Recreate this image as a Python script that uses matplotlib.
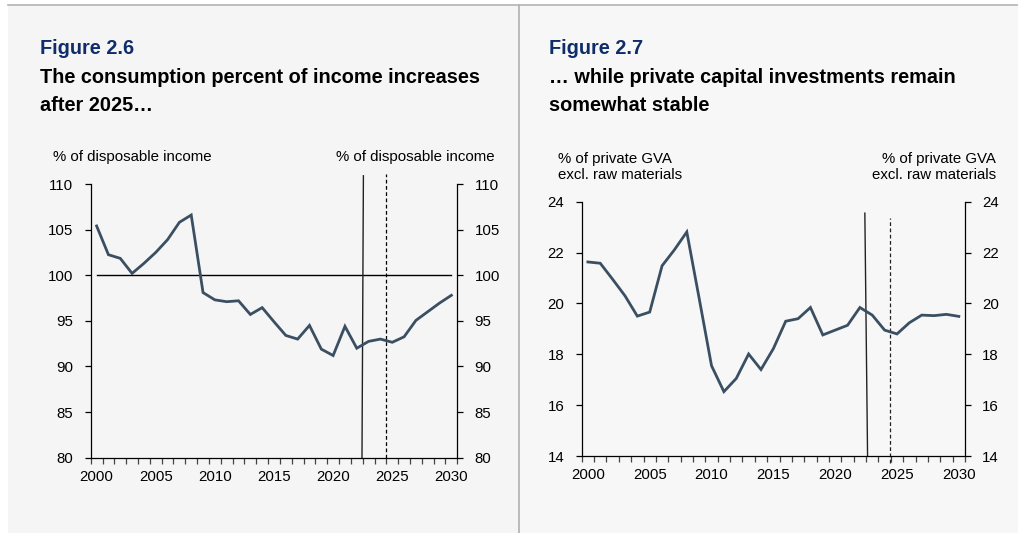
import numpy as np
import matplotlib.pyplot as plt
from matplotlib.patches import Rectangle
from matplotlib.lines import Line2D

plt.rcParams['font.family'] = ['Liberation Sans', 'DejaVu Sans']

# Datos
years = list(range(2000, 2031))
consumption = [105.4, 102.25, 101.85, 100.2, 101.3, 102.5, 103.9, 105.8, 106.6,
               98.1, 97.3, 97.1, 97.2, 95.7, 96.45, 94.9, 93.4, 93.0, 94.5,
               91.9, 91.2, 94.4, 92.0, 92.75, 93.0, 92.65, 93.25, 95.05, 96.0,
               96.95, 97.8]
investment = [21.63, 21.58, 20.95, 20.3, 19.5, 19.66, 21.48, 22.11, 22.81,
              20.2, 17.55, 16.53, 17.05, 18.01, 17.4, 18.22, 19.3, 19.4, 19.84,
              18.76, 18.95, 19.14, 19.84, 19.54, 18.95, 18.8, 19.24, 19.54,
              19.52, 19.57, 19.49]
label_years = [2000, 2005, 2010, 2015, 2020, 2025, 2030]

W, H = 1018, 533
LINE_COLOR = '#3b4f63'
NAVY = '#0f2d6b'
FS = 10.8
TFS = 14.3


def px(x, y):
    return x / W, 1 - y / H


fig = plt.figure(figsize=(W / 100, H / 100), dpi=100, facecolor='white')

# Fondos de los paneles y separadores
fig.patches.append(Rectangle(px(8, H), (519 - 8) / W, (H - 5) / H,
                             transform=fig.transFigure, facecolor='#f5f5f5',
                             edgecolor='none', zorder=-10))
fig.patches.append(Rectangle(px(519, H), (W - 519) / W, (H - 5) / H,
                             transform=fig.transFigure, facecolor='#f7f7f7',
                             edgecolor='none', zorder=-10))
fig.add_artist(Line2D([8 / W, 1], [1 - 5 / H, 1 - 5 / H], color='#b4b4b4',
                      lw=1.2, transform=fig.transFigure))
fig.add_artist(Line2D([519 / W, 519 / W], [0, 1 - 5 / H], color='#b0b0b0',
                      lw=1.2, transform=fig.transFigure))


def setup_axes(rect, ylim, yticks):
    ax = fig.add_axes(rect)
    ax.set_facecolor('none')
    x = np.arange(len(years))
    ax.set_xlim(-0.5, len(years) - 0.5)
    ax.set_ylim(*ylim)
    ax.spines['top'].set_visible(False)
    for s in ['left', 'right', 'bottom']:
        ax.spines[s].set_linewidth(0.9)
    ax.set_xticks(np.arange(-0.5, len(years)), labels=[])
    ax.set_xticks([years.index(y) for y in label_years], minor=True)
    ax.set_xticklabels([str(y) for y in label_years], minor=True, fontsize=FS)
    ax.tick_params(axis='x', which='major', direction='out', length=4.5,
                   width=0.9, color='#444444')
    ax.tick_params(axis='x', which='minor', length=0, pad=8.5)
    ax.set_yticks(yticks)
    ax.tick_params(axis='y', direction='out', length=4, width=0.9,
                   left=True, right=True, labelleft=True, labelright=True,
                   labelsize=FS, pad=8.5)
    return ax, x


# Figura 2.6
ax1, x = setup_axes([90.7 / W, 1 - 457.7 / H, 366.6 / W, 273.7 / H],
                    (80, 110), range(80, 111, 5))
ax1.plot([0, 30], [100, 100], color='black', lw=1.0, zorder=2)
ax1.plot(x, consumption, color=LINE_COLOR, lw=2.0, zorder=3,
         solid_joinstyle='miter')
ax1.plot([22.44, 22.56], [80, 110.9], color='#222222', lw=1.0,
         clip_on=False, zorder=2)
ax1.plot([24.5, 24.5], [80, 111.1], color='black', lw=0.9, ls=(0, (3, 2)),
         clip_on=False, zorder=2)

# Figura 2.7
ax2, x = setup_axes([581.7 / W, 1 - 456 / H, 383.3 / W, 254.3 / H],
                    (14, 24), range(14, 25, 2))
ax2.plot(x, investment, color=LINE_COLOR, lw=2.0, zorder=3,
         solid_joinstyle='miter')
ax2.plot([22.62, 22.4], [14, 23.55], color='#222222', lw=1.0,
         clip_on=False, zorder=2)
ax2.plot([24.4, 24.4], [13.74, 23.35], color='#222222', lw=0.9,
         ls=(0, (3, 2)), clip_on=False, zorder=2)

# Títulos
def ftext(x, y, s, **kw):
    fig.text(*px(x, y), s, va='baseline', **kw)


ftext(39.5, 54.3, 'Figure 2.6', fontsize=TFS, fontweight='bold', color=NAVY)
ftext(39.5, 82.7, 'The consumption percent of income increases',
      fontsize=TFS, fontweight='bold', color='black')
ftext(39.5, 111, 'after 2025…', fontsize=TFS, fontweight='bold',
      color='black')
ftext(549, 54.3, 'Figure 2.7', fontsize=TFS, fontweight='bold', color=NAVY)
ftext(549, 82.7, '… while private capital investments remain',
      fontsize=TFS, fontweight='bold', color='black')
ftext(549, 111, 'somewhat stable', fontsize=TFS, fontweight='bold',
      color='black')

# Etiquetas de los ejes
ftext(53.3, 161, '% of disposable income', fontsize=FS)
ftext(494.3, 161, '% of disposable income', fontsize=FS, ha='right')
ftext(557.7, 163.3, '% of private GVA', fontsize=FS)
ftext(557.7, 179.3, 'excl. raw materials', fontsize=FS)
ftext(995.7, 163.3, '% of private GVA', fontsize=FS, ha='right')
ftext(995.7, 179.3, 'excl. raw materials', fontsize=FS, ha='right')

fig.savefig('out.png', dpi=100, facecolor='white')
